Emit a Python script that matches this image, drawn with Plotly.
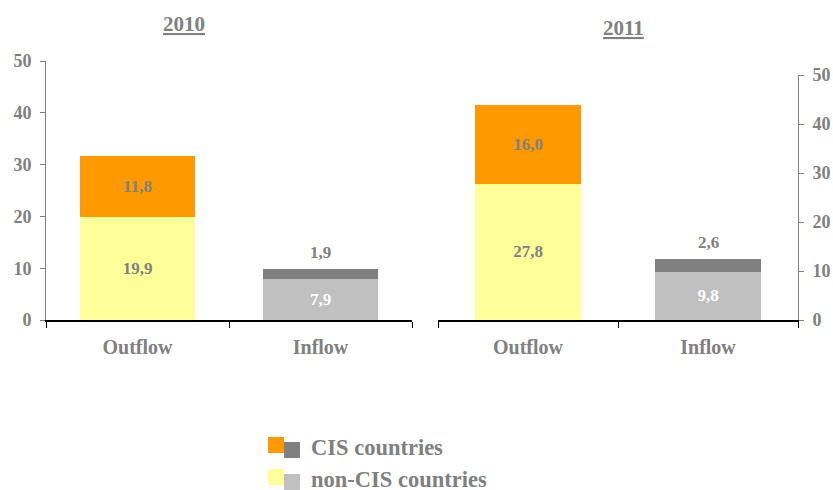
import plotly.graph_objects as go

# Capital flows, stacked by origin group
categories = ["Outflow", "Inflow"]
years = ["2010", "2011"]
non_cis_2010 = [19.9, 7.9]
cis_2010 = [11.8, 1.9]
non_cis_2011 = [27.8, 9.8]
cis_2011 = [16.0, 2.6]
y_ticks = [0, 10, 20, 30, 40, 50]

W, H = 833, 490
FONT = "Liberation Serif"
GREY_TXT = "#808080"

ORANGE = "#FF9900"
YELLOW = "#FFFF99"
DARK = "#808080"
LIGHT = "#C0C0C0"


def fmt(v):
    return f"{v:.1f}".replace(".", ",")


def px_x(p):
    return p / W


def px_y(p):
    return 1 - p / H


def bold_font(size, color=GREY_TXT, **extra):
    return dict(family=FONT, size=size, color=color, weight="bold", **extra)


fig = go.Figure()

panels = [
    (non_cis_2010, cis_2010, "x", "y", 0.63),
    (non_cis_2011, cis_2011, "x2", "y2", 0.59),
]
for non_cis, cis, xa, ya, width in panels:
    fig.add_trace(go.Bar(
        x=categories, y=non_cis, xaxis=xa, yaxis=ya, width=width,
        marker=dict(color=[YELLOW, LIGHT], line=dict(width=0)),
        text=[fmt(v) for v in non_cis], textposition="inside",
        insidetextanchor="middle",
        textfont=bold_font(17, color=[GREY_TXT, "white"]),
        showlegend=False, hoverinfo="skip",
    ))
    # CIS share: label inside the tall outflow bar, above the thin inflow bar
    fig.add_trace(go.Bar(
        x=categories, y=cis, xaxis=xa, yaxis=ya, width=width,
        marker=dict(color=[ORANGE, DARK], line=dict(width=0)),
        text=[fmt(cis[0]), ""], textposition="inside",
        insidetextanchor="middle",
        textfont=bold_font(17),
        showlegend=False, hoverinfo="skip",
    ))
    fig.add_annotation(
        text=fmt(cis[1]), x=categories[1], y=non_cis[1] + cis[1],
        xref=xa, yref=ya, showarrow=False, xanchor="center",
        yanchor="bottom", yshift=5, font=bold_font(17),
    )

xaxis_common = dict(
    showline=True, linecolor="black", linewidth=1.5,
    ticks="outside", tickson="boundaries", ticklen=6, tickcolor="black",
    tickfont=bold_font(20), automargin=False, ticklabelstandoff=8,
    showgrid=False, zeroline=False, fixedrange=True,
)
yaxis_common = dict(
    range=[0, 50], tickvals=y_ticks, showline=True, linecolor="#808080",
    linewidth=1, ticks="outside", ticklen=5, tickcolor="#808080",
    tickfont=bold_font(18), automargin=False, ticklabelstandoff=5,
    showgrid=False, zeroline=False, fixedrange=True,
)

fig.update_layout(
    width=W, height=H, autosize=False,
    margin=dict(l=0, r=0, t=0, b=0, pad=0, autoexpand=False),
    paper_bgcolor="white", plot_bgcolor="white",
    barmode="stack",
    font=dict(family=FONT, color=GREY_TXT),
    xaxis=dict(domain=[px_x(46), px_x(412)], anchor="y", **xaxis_common),
    yaxis=dict(domain=[px_y(320), px_y(61)], anchor="x", side="left",
               **yaxis_common),
    xaxis2=dict(domain=[px_x(438), px_x(798)], anchor="y2", **xaxis_common),
    yaxis2=dict(domain=[px_y(320), px_y(75)], anchor="x2", side="right",
                **yaxis_common),
)

# Panel titles
for year, cx, cy in [(years[0], 184, 24), (years[1], 623, 28)]:
    fig.add_annotation(
        text=year, x=px_x(cx), y=px_y(cy), xref="paper",
        yref="paper", showarrow=False, xanchor="center", yanchor="middle",
        font=bold_font(21, lineposition="under"),
    )

# Legend: paired swatches for each origin group
legend_rows = [
    ("CIS countries", ORANGE, DARK, 437),
    ("non-CIS countries", YELLOW, LIGHT, 469),
]
for label, c1, c2, top in legend_rows:
    fig.add_shape(type="rect", xref="paper", yref="paper",
                  x0=px_x(268), x1=px_x(284), y0=px_y(top + 16), y1=px_y(top),
                  fillcolor=c1, line=dict(width=0))
    fig.add_shape(type="rect", xref="paper", yref="paper",
                  x0=px_x(284), x1=px_x(300), y0=px_y(top + 21), y1=px_y(top + 5),
                  fillcolor=c2, line=dict(width=0))
    fig.add_annotation(
        text=label, x=px_x(309), y=px_y(top + 10), xref="paper",
        yref="paper", showarrow=False, xanchor="left", yanchor="middle",
        height=22, valign="middle", font=bold_font(22.5),
    )

fig.write_html("out.html")
